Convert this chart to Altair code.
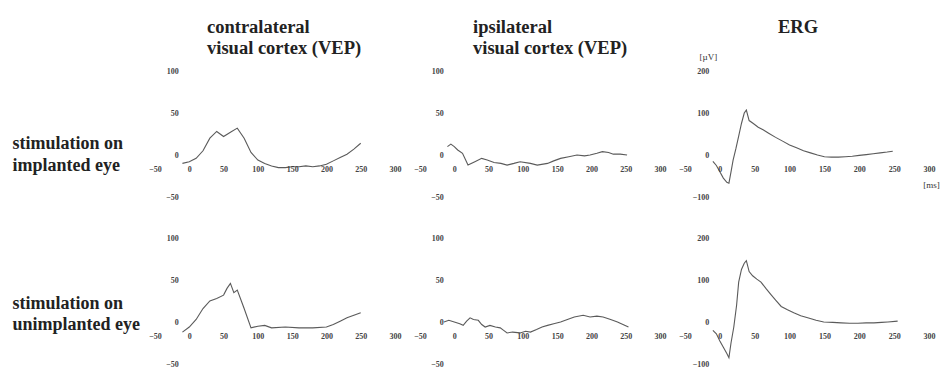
import altair as alt
import pandas as pd

# ---------------- data ----------------
x_ticks = [-50, 0, 50, 100, 150, 200, 250, 300]
vep_y_ticks = [-50, 0, 50, 100]
erg_y_ticks = [-100, 0, 100, 200]

# contralateral VEP, stimulation on implanted eye
c_imp_t = [-10, 0, 10, 20, 30, 40, 50, 60, 70, 80, 90, 100, 110, 120, 130, 140,
           150, 160, 170, 180, 190, 200, 210, 220, 230, 240, 250]
c_imp_v = [-10, -8, -4, 5, 20, 28, 22, 27, 32, 20, 3, -6, -10, -13, -15, -15,
           -14, -14, -13, -14, -13, -11, -7, -3, 1, 7, 14]

# contralateral VEP, stimulation on unimplanted eye
c_un_t = [-10, 0, 10, 20, 30, 40, 50, 55, 60, 65, 70, 80, 90, 100, 110, 120,
          140, 160, 180, 200, 210, 220, 230, 240, 250]
c_un_v = [-12, -6, 3, 16, 25, 28, 32, 40, 46, 35, 38, 16, -7, -5, -4, -7,
          -6, -7, -7, -6, -3, 1, 5, 8, 11]

# ipsilateral VEP, stimulation on implanted eye
i_imp_t = [-10, -5, 0, 5, 12, 20, 30, 40, 48, 58, 68, 77, 87, 96, 111, 121,
           136, 145, 155, 167, 179, 190, 198, 208, 216, 225, 232, 242, 252]
i_imp_v = [10, 13, 10, 6, 2, -12, -8, -4, -6, -9, -10, -12, -10, -8, -10, -12,
           -10, -7, -4, -2, 0, -1, 0, 2, 4, 3, 1, 1, 0]

# ipsilateral VEP, stimulation on unimplanted eye
i_un_t = [-15, -8, 0, 8, 13, 18, 23, 28, 35, 40, 45, 52, 60, 67, 72, 77, 85, 96,
          104, 111, 120, 128, 136, 145, 155, 165, 175, 188, 198, 208, 217, 228,
          238, 246, 254]
i_un_v = [0, 2, 0, -2, -4, 1, 5, 3, 2, -3, -6, -4, -6, -7, -10, -13, -12, -13,
          -11, -12, -9, -6, -4, -2, 0, 3, 6, 8, 6, 7, 6, 3, 0, -3, -6]

# ERG, stimulation on implanted eye
e_imp_t = [-10, -5, 0, 5, 10, 13, 16, 19, 23, 27, 31, 35, 38, 42, 48, 55, 62,
           70, 80, 90, 100, 110, 120, 130, 140, 150, 160, 170, 180, 190, 200,
           210, 220, 230, 240, 248]
e_imp_v = [-15, -25, -40, -55, -65, -67, -40, -12, 15, 45, 75, 100, 107, 82,
           75, 66, 60, 52, 42, 33, 24, 17, 10, 5, 0, -4, -5, -5, -4, -3, -1,
           1, 3, 5, 7, 9]

# ERG, stimulation on unimplanted eye
e_un_t = [-10, -5, 0, 5, 10, 13, 16, 20, 24, 27, 31, 35, 38, 42, 47, 53, 59,
          66, 73, 80, 88, 97, 106, 116, 126, 138, 149, 162, 174, 186, 198, 210,
          221, 232, 241, 255]
e_un_v = [-20, -28, -45, -60, -75, -85, -50, -12, 40, 95, 125, 140, 146, 120,
          110, 102, 95, 80, 66, 52, 37, 29, 22, 15, 10, 4, 0, -1, -2, -3, -3,
          -2, -2, -1, 0, 2]

col_titles = [["contralateral", "visual cortex (VEP)"],
              ["ipsilateral", "visual cortex (VEP)"],
              ["ERG"]]
row_titles = [["stimulation on", "implanted eye"],
              ["stimulation on", "unimplanted eye"]]

SERIF = "Liberation Serif"
H = 126


def panel(ts, vs, width, ydom, yticks, title=None, title_dx=0, title_dy=24,
          row_title=None, row_title_y=0, row_lh=21, yunit=None, xunit=None):
    df = pd.DataFrame({"t": ts, "v": vs})
    x0 = width * 50 / 350.0
    yzero = H * (0 - ydom[0]) / (ydom[1] - ydom[0])

    xaxis_kw = dict(values=x_ticks, offset=-yzero, labelPadding=10,
                    labelFlush=False, labelOverlap=False, title=None)
    if xunit:
        xaxis_kw.update(title=xunit, titleX=width + 2, titleY=29,
                        titleFont=SERIF, titleFontSize=9,
                        titleFontWeight="normal", titleAlign="center",
                        titleBaseline="middle", titleColor="#333")
    yaxis_kw = dict(values=yticks, offset=-x0, labelPadding=11,
                    labelOverlap=False, labelFlush=False, title=None)
    if row_title:
        yaxis_kw.update(title=row_title, titleAngle=0, titleAlign="left",
                        titleBaseline="top", titleX=-(x0 + 143),
                        titleY=row_title_y, titleFont=SERIF, titleFontSize=18,
                        titleFontWeight="bold", titleLineHeight=row_lh,
                        titleColor="#222")
    if yunit:
        yaxis_kw.update(title=yunit, titleAngle=0, titleAlign="center",
                        titleBaseline="middle", titleX=-12, titleY=-15,
                        titleFont=SERIF, titleFontSize=9,
                        titleFontWeight="normal", titleColor="#333")

    props = dict(width=width, height=H)
    if title:
        props["title"] = alt.TitleParams(
            text=title, anchor="start", frame="group", dx=title_dx,
            dy=title_dy, offset=15, baseline="bottom", font=SERIF,
            fontSize=18.5, fontWeight="bold", lineHeight=21, color="#222")

    return alt.Chart(df).mark_line(
        color="#3d3d3d", strokeWidth=1.1, opacity=0.85
    ).encode(
        x=alt.X("t:Q", scale=alt.Scale(domain=[-50, 300], nice=False),
                axis=alt.Axis(**xaxis_kw)),
        y=alt.Y("v:Q", scale=alt.Scale(domain=list(ydom), nice=False),
                axis=alt.Axis(**yaxis_kw)),
    ).properties(**props)


p11 = panel(c_imp_t, c_imp_v, 240, (-50, 100), vep_y_ticks,
            title=col_titles[0], title_dx=52,
            row_title=row_titles[0], row_title_y=63, row_lh=22)
p12 = panel(i_imp_t, i_imp_v, 240, (-50, 100), vep_y_ticks,
            title=col_titles[1], title_dx=53)
p13 = panel(e_imp_t, e_imp_v, 244, (-100, 200), erg_y_ticks,
            title=col_titles[2], title_dx=93, title_dy=18,
            yunit="[µV]", xunit="[ms]")
p21 = panel(c_un_t, c_un_v, 240, (-50, 100), vep_y_ticks,
            row_title=row_titles[1], row_title_y=56, row_lh=21)
p22 = panel(i_un_t, i_un_v, 240, (-50, 100), vep_y_ticks)
p23 = panel(e_un_t, e_un_v, 244, (-100, 200), erg_y_ticks)

chart = alt.concat(
    p11, p12, p13, p21, p22, p23, columns=3,
    spacing={"row": 41, "column": 25}, bounds="flush"
).properties(
    padding={"left": 12, "top": 17, "right": 0, "bottom": 0},
    background="white",
).configure_view(
    stroke=None
).configure_axis(
    domain=False, ticks=False, grid=False, tickSize=0,
    labelFont=SERIF, labelFontSize=8, labelColor="#444",
    labelFontWeight="bold"
)

chart.save("out.html", embed_options={"renderer": "svg", "actions": False})
